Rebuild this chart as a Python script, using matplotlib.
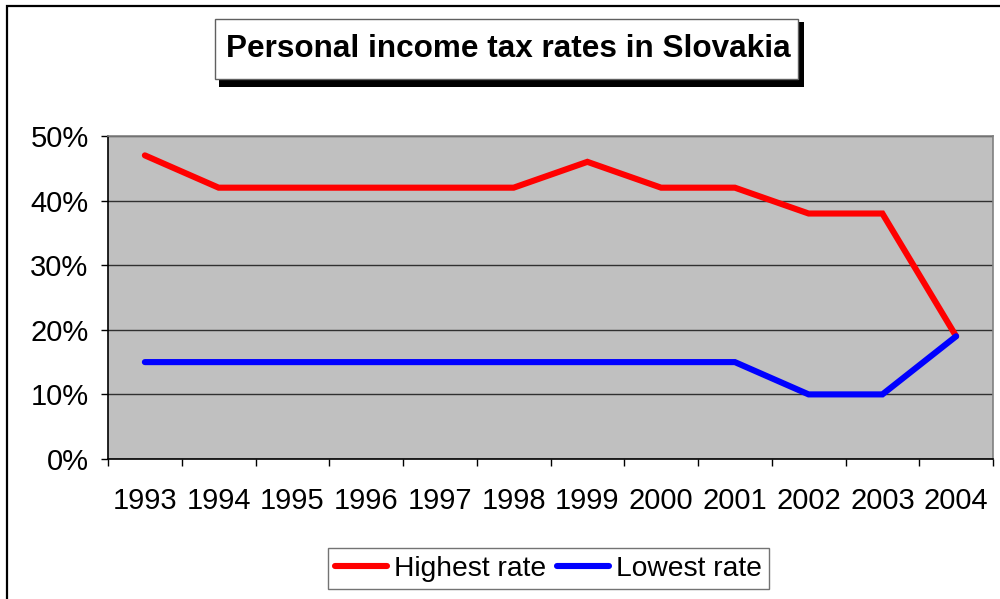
import matplotlib.pyplot as plt
from matplotlib.patches import Rectangle
from matplotlib.ticker import FixedLocator, PercentFormatter

plt.rcParams['font.family'] = ['Liberation Sans', 'DejaVu Sans']

years = ["1993", "1994", "1995", "1996", "1997", "1998",
         "1999", "2000", "2001", "2002", "2003", "2004"]
highest_rate = [47, 42, 42, 42, 42, 42, 46, 42, 42, 38, 38, 19]
lowest_rate = [15, 15, 15, 15, 15, 15, 15, 15, 15, 10, 10, 19]

W, H = 1000, 599
fig = plt.figure(figsize=(W / 100, H / 100), dpi=100)


def px_rect(x0, y0, x1, y1, **kw):
    # rectangle given in pixels from top-left of the image
    return Rectangle((x0 / W, 1 - y1 / H), (x1 - x0) / W, (y1 - y0) / H,
                     transform=fig.transFigure, **kw)


# outer chart border (only top and left visible in the picture)
fig.patches.append(px_rect(7, 6, 1012, 612, facecolor='none',
                           edgecolor='black', linewidth=1.6))

ax = fig.add_axes([108 / W, 1 - 459 / H, (993 - 108) / W, (459 - 136) / H])
ax.set_facecolor('#C0C0C0')

x = list(range(len(years)))
ax.plot(x, highest_rate, color='#FF0000', linewidth=4.4,
        solid_joinstyle='miter', solid_capstyle='round', label='Highest rate', zorder=3)
ax.plot(x, lowest_rate, color='#0000FF', linewidth=4.4,
        solid_joinstyle='miter', solid_capstyle='round', label='Lowest rate', zorder=3)

ax.set_xlim(-0.5, len(years) - 0.5)
ax.set_ylim(0, 50)
ax.yaxis.set_major_locator(FixedLocator([0, 10, 20, 30, 40, 50]))
ax.yaxis.set_major_formatter(PercentFormatter(decimals=0))
ax.grid(axis='y', color='#303030', linewidth=1.0)
ax.set_axisbelow(True)

# category boundaries as ticks, labels centred between them
ax.xaxis.set_major_locator(FixedLocator([i - 0.5 for i in range(len(years) + 1)]))
ax.xaxis.set_minor_locator(FixedLocator(x))
ax.set_xticklabels([], minor=False)
ax.set_xticklabels(years, minor=True)
ax.tick_params(axis='x', which='major', length=5, width=1, color='black')
ax.tick_params(axis='x', which='minor', length=0, pad=20, labelsize=21)
ax.tick_params(axis='y', length=5, width=1, color='black', pad=9, labelsize=21)

for side in ('top', 'right'):
    ax.spines[side].set_color('#808080')
    ax.spines[side].set_linewidth(1.2)
for side in ('left', 'bottom'):
    ax.spines[side].set_color('black')
    ax.spines[side].set_linewidth(1.2)

# title box with shadow
fig.patches.append(px_rect(219, 22, 804, 87, facecolor='black', edgecolor='none'))
fig.patches.append(px_rect(215, 19, 798, 79, facecolor='white',
                           edgecolor='#606060', linewidth=1))
fig.text((215 + 798) / 2 / W + 0.002, 1 - 49 / H, "Personal income tax rates in Slovakia",
         ha='center', va='center', fontsize=22.7, fontweight='bold')

leg = fig.legend(loc='center', bbox_to_anchor=((327 + 770) / 2 / W, 1 - 568.5 / H),
                 ncol=2, fontsize=20.3, frameon=True, fancybox=False,
                 handlelength=1.85, handletextpad=0.25, columnspacing=0.4,
                 borderpad=0.25, borderaxespad=0)
leg.get_frame().set_edgecolor('#505050')
leg.get_frame().set_linewidth(1)

fig.savefig("out.png", dpi=100)
